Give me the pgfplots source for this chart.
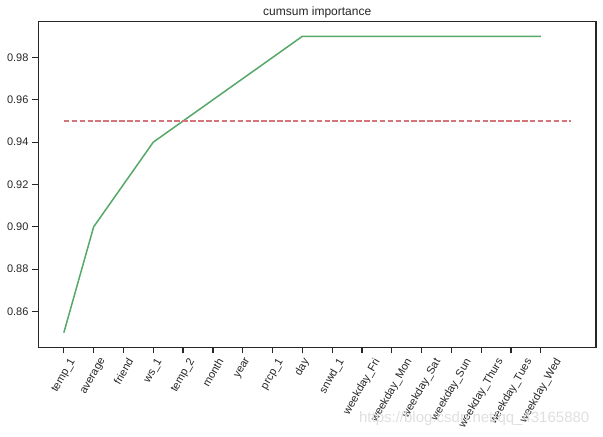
\documentclass[border=0pt]{standalone}
\usepackage{graphicx}
\usepackage{fontspec}
\setmainfont{Liberation Sans}
\usepackage{pgfplots}
\pgfplotsset{compat=1.18}
\definecolor{sgreen}{HTML}{55A868}
\definecolor{sred}{HTML}{D27479}
\definecolor{axgray}{HTML}{262626}
\newcommand{\rl}[1]{\rotatebox{60}{#1}}
\begin{document}
\begin{tikzpicture}
\begin{axis}[
  scale only axis,
  width=557.5pt, height=326pt,
  xmin=-0.85, xmax=17.85,
  ymin=0.843, ymax=0.997,
  axis line style={axgray, line width=1.25pt},
  xtick={0,...,16},
  xticklabels={\rl{temp\_1},\rl{average},\rl{friend},\rl{ws\_1},\rl{temp\_2},\rl{month},\rl{year},\rl{prcp\_1},\rl{day},\rl{snwd\_1},\rl{weekday\_Fri},\rl{weekday\_Mon},\rl{weekday\_Sat},\rl{weekday\_Sun},\rl{weekday\_Thurs},\rl{weekday\_Tues},\rl{weekday\_Wed}},
  ytick={0.86,0.88,0.90,0.92,0.94,0.96,0.98},
  yticklabel style={/pgf/number format/fixed, /pgf/number format/precision=2, /pgf/number format/fixed zerofill, /pgf/number format/assume math mode=true, font=\fontsize{11}{13}\selectfont, text=axgray, xshift=-0.5pt},
  xticklabel style={anchor=north, font=\fontsize{11}{13}\selectfont, text=axgray, inner sep=0pt, yshift=-3.5pt},
  xtick pos=bottom, ytick pos=left,
  tick align=outside,
  major tick length=6pt,
  tick style={axgray, line width=1.25pt},
  clip=false,
]
\addplot[sgreen, line width=1.5pt] coordinates {
(0,0.85) (1,0.90) (2,0.92) (3,0.94) (4,0.95) (5,0.96) (6,0.97) (7,0.98) (8,0.99)
(9,0.99) (10,0.99) (11,0.99) (12,0.99) (13,0.99) (14,0.99) (15,0.99) (16,0.99)};
\addplot[sred, line width=1.5pt, dash pattern=on 5.5pt off 2.4pt] coordinates {(0,0.95) (17,0.95)};
\end{axis}
\draw[axgray, line width=1.25pt] (0,0) rectangle (557.5pt,326pt);
\node[anchor=base, text=axgray, font=\fontsize{12}{14}\selectfont, inner sep=0pt] at (278.75pt,332pt) {cumsum importance};
\node[anchor=base east, text=gray!25, font=\fontsize{15}{17}\selectfont, inner sep=0pt] at (551pt,-75pt) {https://blog.csdn.net/qq\_43165880};
\pgfresetboundingbox
\useasboundingbox (-38.5pt,-88.7pt) rectangle (564.5pt,347.5pt);
\end{tikzpicture}
\end{document}
